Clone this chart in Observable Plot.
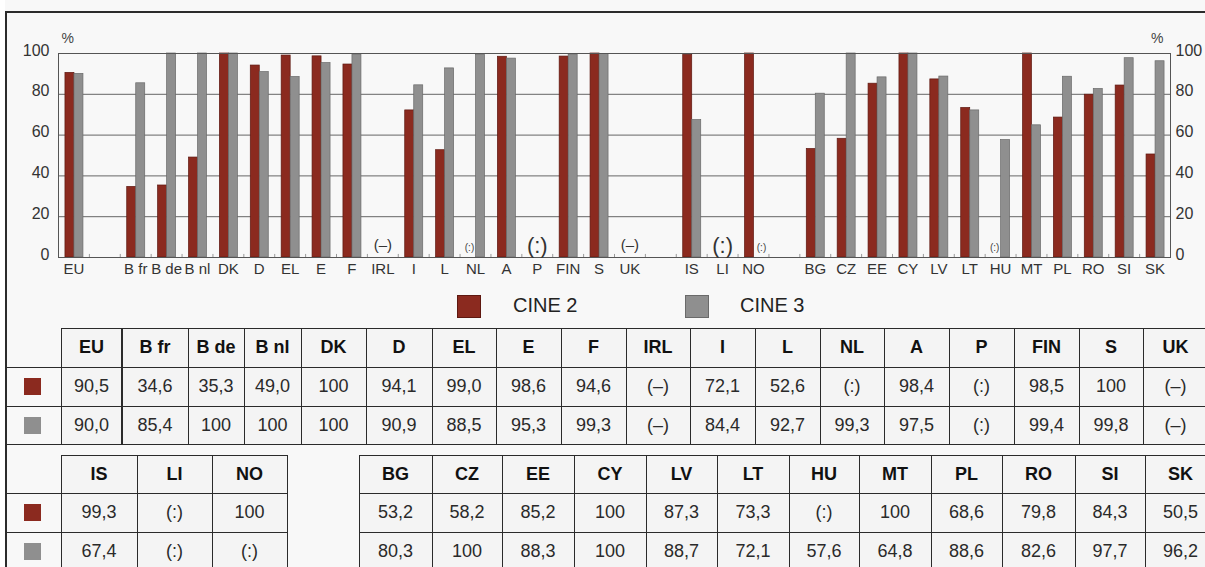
<!DOCTYPE html>
<html><head><meta charset="utf-8">
<script src="https://cdn.jsdelivr.net/npm/d3@7"></script>
<script src="https://cdn.jsdelivr.net/npm/@observablehq/plot@0.6"></script>
<style>
body{margin:0;background:#fff;font-family:"Liberation Sans",Arial,sans-serif;}
#page{position:relative;width:1205px;height:567px;overflow:hidden;background:#f8f8f8;}
.abs{position:absolute;}
.cell{position:absolute;display:flex;align-items:center;justify-content:center;font-size:18px;color:#2a2a2a;background:#f4f4f4;box-sizing:border-box;}
.hdr{font-weight:bold;color:#111;}
.ln{position:absolute;background:#2b2b2b;}
</style></head><body><div id="page"></div>
<script>
// ---------- data ----------
const seriesNames = ["CINE 2", "CINE 3"];
const groupEU = ["EU"];
const groupEU15 = ["B fr","B de","B nl","DK","D","EL","E","F","IRL","I","L","NL","A","P","FIN","S","UK"];
const groupEFTA = ["IS","LI","NO"];
const groupNMS = ["BG","CZ","EE","CY","LV","LT","HU","MT","PL","RO","SI","SK"];
const cine2 = [90.5,
  34.6,35.3,49.0,100,94.1,99.0,98.6,94.6,"(–)",72.1,52.6,"(:)",98.4,"(:)",98.5,100,"(–)",
  99.3,"(:)",100,
  53.2,58.2,85.2,100,87.3,73.3,"(:)",100,68.6,79.8,84.3,50.5];
const cine3 = [90.0,
  85.4,100,100,100,90.9,88.5,95.3,99.3,"(–)",84.4,92.7,99.3,97.5,"(:)",99.4,99.8,"(–)",
  67.4,"(:)","(:)",
  80.3,100,88.3,100,88.7,72.1,57.6,64.8,88.6,82.6,97.7,96.2];
const yTicks = [0,20,40,60,80,100];

// ---------- style ----------
const colors = ["#8b2a1f", "#8f8f8f"];
const strokes = ["#5e1810", "#6a6a6a"];

const categories = [...groupEU, ...groupEU15, ...groupEFTA, ...groupNMS];
const slots = [...groupEU, "gap1", ...groupEU15, "gap2", ...groupEFTA, "gap3", ...groupNMS];
const rows = categories.map((c, i) => ({cat: c, v2: cine2[i], v3: cine3[i]}));
const num = v => typeof v === "number";

const W = 1205, H = 285, mL = 58, mR = 35, mT = 53, mB = 28;
const bw = (W - mL - mR) / slots.length;
const barW = 9;

const page = document.getElementById("page");

const chart = Plot.plot({
  width: W, height: H, marginLeft: mL, marginRight: mR, marginTop: mT, marginBottom: mB,
  style: {fontFamily: "'Liberation Sans', Arial, sans-serif", fontSize: "16px", color: "#333", background: "transparent", overflow: "visible"},
  x: {type: "band", domain: slots, padding: 0},
  y: {domain: [0, 100]},
  marks: [
    Plot.ruleY([20, 40, 60, 80], {stroke: "#666", strokeWidth: 1}),
    Plot.barY(rows.filter(d => num(d.v2)), {x: "cat", y: "v2", fill: colors[0], stroke: strokes[0], strokeWidth: 0.7,
      insetLeft: bw / 2 - barW + 0.5, insetRight: bw / 2 - 0.5}),
    Plot.barY(rows.filter(d => num(d.v3)), {x: "cat", y: "v3", fill: colors[1], stroke: strokes[1], strokeWidth: 0.7,
      insetLeft: bw / 2 + 0.5, insetRight: bw / 2 - barW - 0.5}),
    Plot.ruleX(slots, {x: d => d, y1: 0, y2: 1.5, dx: -bw / 2, stroke: "#999"}),
    Plot.frame({stroke: "#555"}),
    // missing value markers
    Plot.text(rows.filter(d => !num(d.v2) && !num(d.v3)), {x: "cat", y: 0, text: "v2",
      fontSize: d => d.v2 === "(:)" ? 22 : 15, dy: -12, fill: "#333"}),
    Plot.text(rows.filter(d => !num(d.v2) && num(d.v3)), {x: "cat", y: 0, text: "v2", fontSize: 10, dx: -6, dy: -10, fill: "#444"}),
    Plot.text(rows.filter(d => num(d.v2) && !num(d.v3)), {x: "cat", y: 0, text: "v3", fontSize: 10, dx: 8, dy: -10, fill: "#444"}),
    Plot.axisX({tickSize: 0, tickPadding: 6, fontSize: 15, label: null, tickFormat: d => d.startsWith("gap") ? "" : d}),
    Plot.axisY({anchor: "left", ticks: yTicks, tickSize: 0, tickPadding: 9, dy: -3, fontSize: 16, label: null}),
    Plot.axisY({anchor: "right", ticks: yTicks, tickSize: 0, tickPadding: 5, dy: -3, fontSize: 16, label: null}),
    Plot.text(["%"], {frameAnchor: "top-left", lineAnchor: "middle", dx: 3, dy: -15, fontSize: 14, fill: "#444"}),
    Plot.text(["%"], {frameAnchor: "top-right", lineAnchor: "middle", dx: -7, dy: -15, fontSize: 14, fill: "#444"})
  ]
});
chart.style.position = "absolute";
chart.style.left = "0px";
chart.style.top = "0px";

function div(cls, css, text) {
  const d = document.createElement("div");
  d.className = cls;
  Object.assign(d.style, css);
  if (text != null) d.textContent = text;
  page.appendChild(d);
  return d;
}
function hline(x1, x2, y, w = 1) { div("ln", {left: x1 + "px", top: y + "px", width: (x2 - x1) + "px", height: w + "px"}); }
function vline(x, y1, y2, w = 1) { div("ln", {left: x + "px", top: y1 + "px", width: w + "px", height: (y2 - y1) + "px"}); }
const fmt = v => num(v) ? (v === 100 ? "100" : v.toFixed(1).replace(".", ",")) : v;

// outer box
div("ln", {left: "0px", top: "0px", width: "5px", height: "567px", background: "#fff"});
hline(5, 1205, 11, 2);
vline(5, 11, 567, 1.5);

page.appendChild(chart);

// legend
const legendSwatchX = [457, 685], legendTextX = [513, 740];
seriesNames.forEach((s, i) => {
  div("abs", {left: legendSwatchX[i] + "px", top: "295px", width: "24px", height: "23px", background: colors[i], outline: "1px solid " + strokes[i], outlineOffset: "-1px"});
  div("abs", {left: legendTextX[i] + "px", top: "293px", fontSize: "20px", color: "#222", lineHeight: "24px"}, s);
});

// tables
function tableBlock(cats, edges, rowsY, withSwatch, hStart) {
  const [y0, y1, y2, y3] = rowsY;
  const vals = [cats.map(c => c), cats.map(c => fmt(cine2[categories.indexOf(c)])), cats.map(c => fmt(cine3[categories.indexOf(c)]))];
  [y0, y1, y2].forEach((top, r) => {
    const h = rowsY[r + 1] - top;
    cats.forEach((c, i) => {
      div("cell" + (r === 0 ? " hdr" : ""), {left: edges[i] + "px", top: top + "px", width: (edges[i + 1] - edges[i]) + "px", height: h + "px"}, vals[r][i]);
    });
    if (withSwatch && r > 0) {
      div("abs", {left: "24px", top: (top + (h - 17) / 2) + "px", width: "17px", height: "17px", background: colors[r - 1]});
    }
  });
  const xEnd = edges[edges.length - 1];
  hline(edges[0], xEnd, y0);
  hline(hStart, xEnd, y1);
  hline(hStart, xEnd, y2);
  hline(hStart, xEnd, y3);
  edges.forEach(x => vline(x, y0, y3 + 1));
}

const topCats = [...groupEU, ...groupEU15];
const topEdges = [61,122,188,244,301,366,432,496,561,626,690,755,820,884,949,1014,1079,1143,1208];
tableBlock(topCats, topEdges, [328, 367, 406, 444], true, 5);
vline(121, 328, 445, 2);

const efEdges = [61,137,212,287];
tableBlock(groupEFTA, efEdges, [455, 493, 532, 571], true, 5);
const nmsEdges = [359,432,502,574,646,717,789,859,931,1002,1075,1145,1216];
tableBlock(groupNMS, nmsEdges, [455, 493, 532, 571], false, 359);
</script>
</body></html>
